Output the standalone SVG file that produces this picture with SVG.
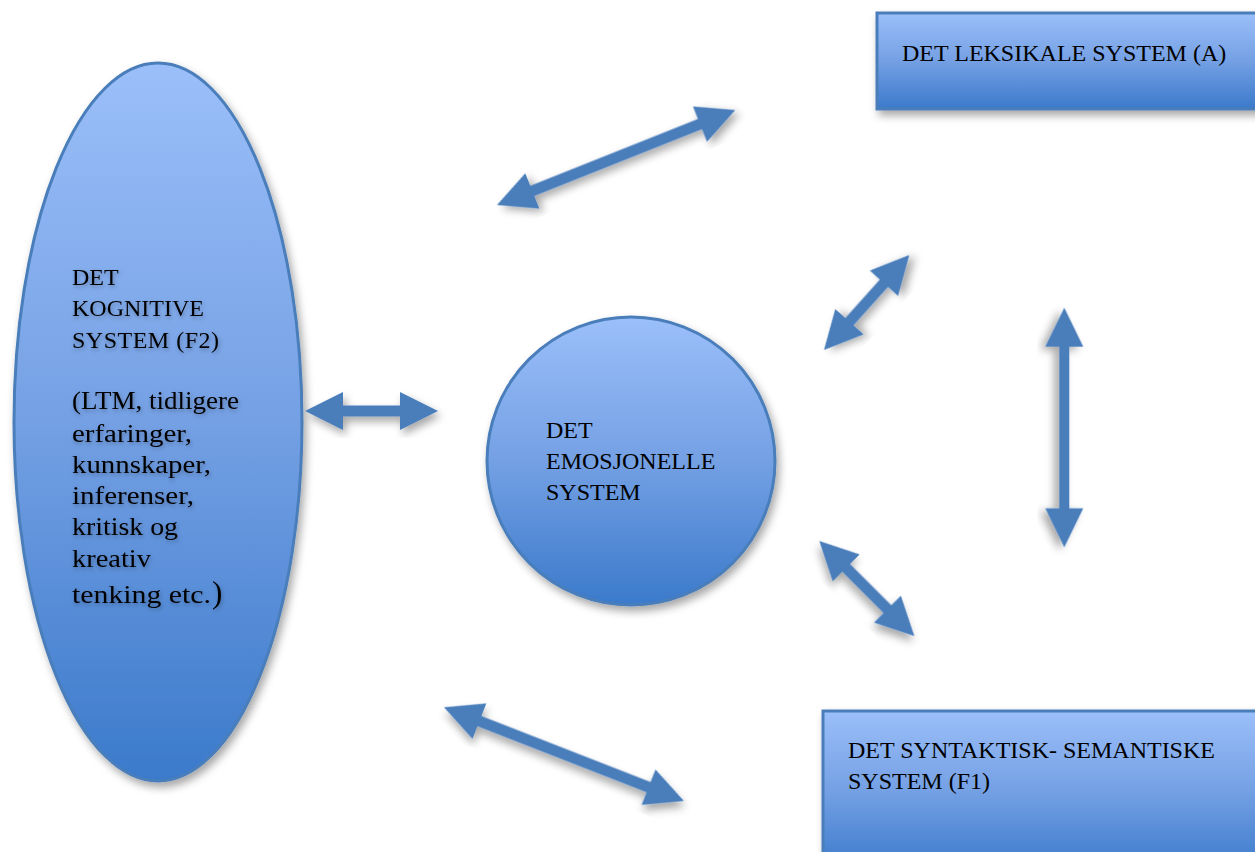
<svg xmlns="http://www.w3.org/2000/svg" width="1255" height="852" viewBox="0 0 1255 852">
  <defs>
    <linearGradient id="blueGrad" x1="0" y1="0" x2="0" y2="1">
      <stop offset="0" stop-color="#9bbff9"/>
      <stop offset="0.5" stop-color="#74a0e4"/>
      <stop offset="1" stop-color="#3b7acb"/>
    </linearGradient>
    <filter id="shadow" x="-20%" y="-20%" width="140%" height="140%">
      <feDropShadow dx="3" dy="5" stdDeviation="4" flood-color="#000" flood-opacity="0.35"/>
    </filter>
    <filter id="glow" x="-10%" y="-10%" width="120%" height="120%">
      <feDropShadow dx="1" dy="2" stdDeviation="2" flood-color="#000" flood-opacity="0.3"/>
    </filter>
  </defs>
  <style>
    .shape { fill: url(#blueGrad); stroke: #4a7ebb; stroke-width: 3; filter: url(#shadow); }
    .arrow { fill: #4a7ebb; filter: url(#shadow); }
    .label { font-family: "Liberation Serif", "Times New Roman", serif; font-size: 24px; fill: #000; }
    .lc { font-size: 25px; }
  </style>
  <rect width="1255" height="852" fill="#ffffff"/>

  <g id="node-kognitive">
    <ellipse class="shape" cx="158" cy="422" rx="144" ry="359"/>
    <g class="label" filter="url(#glow)">
      <text x="72" y="285">DET</text>
      <text x="72" y="316">KOGNITIVE</text>
      <text x="72" y="348" textLength="147" lengthAdjust="spacing">SYSTEM (F2)</text>
      <text class="lc" x="72" y="409" textLength="167" lengthAdjust="spacingAndGlyphs">(LTM, tidligere</text>
      <text class="lc" x="72" y="442" textLength="120" lengthAdjust="spacingAndGlyphs">erfaringer,</text>
      <text class="lc" x="72" y="473" textLength="139" lengthAdjust="spacingAndGlyphs">kunnskaper,</text>
      <text class="lc" x="72" y="504" textLength="122" lengthAdjust="spacingAndGlyphs">inferenser,</text>
      <text class="lc" x="72" y="535" textLength="106" lengthAdjust="spacingAndGlyphs">kritisk og</text>
      <text class="lc" x="72" y="567" textLength="79" lengthAdjust="spacingAndGlyphs">kreativ</text>
      <text class="lc" x="72" y="603" textLength="139" lengthAdjust="spacingAndGlyphs">tenking etc.</text>
      <text x="212" y="603" font-size="31">)</text>
    </g>
  </g>

  <g id="node-emosjonelle">
    <circle class="shape" cx="631" cy="461" r="144"/>
    <g class="label">
      <text x="546" y="438">DET</text>
      <text x="546" y="469">EMOSJONELLE</text>
      <text x="546" y="500">SYSTEM</text>
    </g>
  </g>

  <g id="node-leksikale">
    <rect class="shape" x="877" y="13" width="400" height="96"/>
    <text class="label" x="902" y="61">DET LEKSIKALE SYSTEM (A)</text>
  </g>

  <g id="node-syntaktisk">
    <rect class="shape" x="823" y="711" width="450" height="160"/>
    <g class="label">
      <text x="848" y="758">DET SYNTAKTISK- SEMANTISKE</text>
      <text x="848" y="789">SYSTEM (F1)</text>
    </g>
  </g>

  <g id="connectors">
    <polygon class="arrow" transform="translate(497,205) rotate(-21.73)" points="0,0 38,-19 38,-5.5 218.5,-5.5 218.5,-19 256.5,0 218.5,19 218.5,5.5 38,5.5 38,19"/>
    <polygon class="arrow" transform="translate(824,350) rotate(-48.07)" points="0,0 38,-19 38,-5.5 89.7,-5.5 89.7,-19 127.7,0 89.7,19 89.7,5.5 38,5.5 38,19"/>
    <polygon class="arrow" transform="translate(1064.3,307.7) rotate(90)" points="0,0 39,-19 39,-5 200.6,-5 200.6,-19 239.6,0 200.6,19 200.6,5 39,5 39,19"/>
    <polygon class="arrow" transform="translate(819.3,541) rotate(45)" points="0,0 38,-19 38,-5.5 96.4,-5.5 96.4,-19 134.4,0 96.4,19 96.4,5.5 38,5.5 38,19"/>
    <polygon class="arrow" transform="translate(444,707.3) rotate(21.33)" points="0,0 38,-19 38,-5.5 219.6,-5.5 219.6,-19 257.6,0 219.6,19 219.6,5.5 38,5.5 38,19"/>
    <polygon class="arrow" transform="translate(305,411)" points="0,0 38,-19 38,-5.5 95,-5.5 95,-19 133,0 95,19 95,5.5 38,5.5 38,19"/>
  </g>
</svg>
